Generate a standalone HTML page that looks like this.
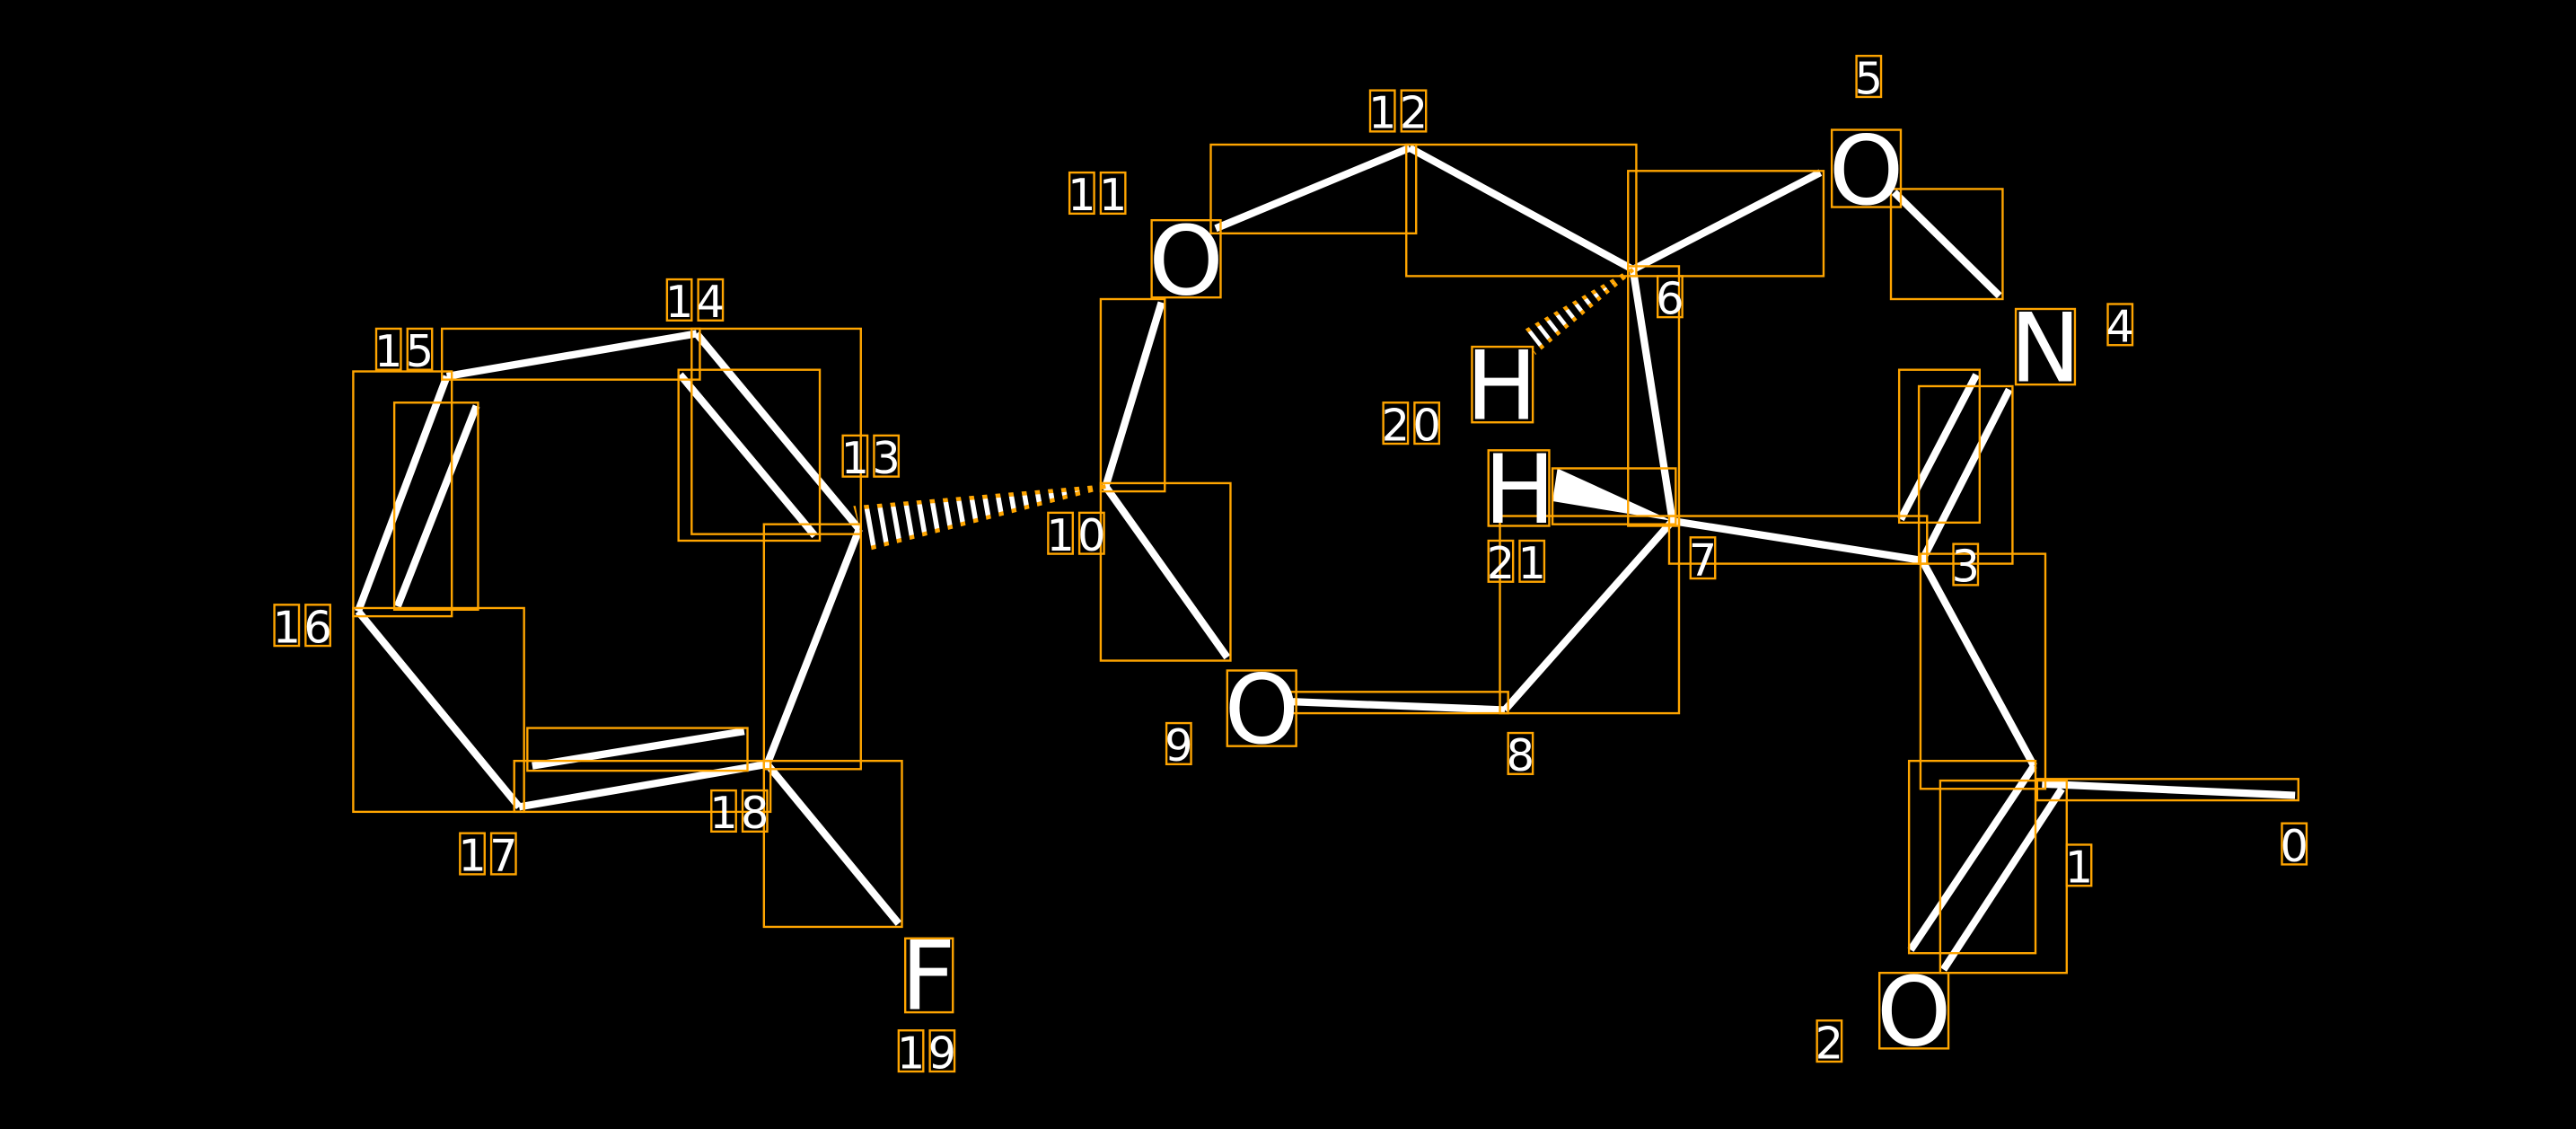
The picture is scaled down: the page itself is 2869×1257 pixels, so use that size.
<!DOCTYPE html>
<html><head><meta charset="utf-8"><style>
html,body{margin:0;padding:0;background:#000;}
svg{display:block;}
text{font-family:"DejaVu Sans","Liberation Sans",sans-serif;fill:#fff;}
</style></head><body>
<svg width="2869" height="1257" viewBox="0 0 1568 687" preserveAspectRatio="none" xmlns="http://www.w3.org/2000/svg">
<rect width="1568" height="687" fill="#000"/>
<defs>
<mask id="m1" maskUnits="userSpaceOnUse" x="0" y="0" width="1568" height="687"><line x1="673" y1="296" x2="519" y2="323" stroke="#fff" stroke-width="40" stroke-dasharray="3 5"/></mask>
<mask id="m2" maskUnits="userSpaceOnUse" x="0" y="0" width="1568" height="687"><line x1="994" y1="164" x2="930" y2="214" stroke="#fff" stroke-width="30" stroke-dasharray="2.5 4"/></mask>
</defs>
<g stroke="#fff" stroke-width="4.5" stroke-linecap="butt" fill="none">
<line x1="1397" y1="484" x2="1243" y2="477"/>
<line x1="1238" y1="466" x2="1163" y2="578"/>
<line x1="1255" y1="480" x2="1183" y2="590"/>
<line x1="1238" y1="466" x2="1170" y2="341"/>
<line x1="1170" y1="341" x2="1223" y2="237"/>
<line x1="1157" y1="316" x2="1203" y2="228"/>
<line x1="1217" y1="180" x2="1153" y2="117"/>
<line x1="1108" y1="105" x2="994" y2="164"/>
<line x1="994" y1="164" x2="858" y2="90"/>
<line x1="858" y1="90" x2="740" y2="139"/>
<line x1="707" y1="184" x2="673" y2="296"/>
<line x1="673" y1="296" x2="747" y2="400"/>
<line x1="787" y1="427" x2="916" y2="432"/>
<line x1="916" y1="432" x2="1018" y2="317"/>
<line x1="1018" y1="317" x2="994" y2="164"/>
<line x1="1018" y1="317" x2="1170" y2="341"/>
<line x1="523" y1="322" x2="424" y2="203"/>
<line x1="414" y1="228" x2="496" y2="326"/>
<line x1="424" y1="203" x2="272" y2="229"/>
<line x1="272" y1="229" x2="218" y2="372"/>
<line x1="290" y1="247" x2="242" y2="369"/>
<line x1="218" y1="372" x2="316" y2="491"/>
<line x1="316" y1="491" x2="467" y2="465"/>
<line x1="324" y1="466" x2="453" y2="445"/>
<line x1="467" y1="465" x2="523" y2="322"/>
<line x1="467" y1="465" x2="547" y2="562"/>
</g>
<polygon points="1018,317 948,285 945,305" fill="#fff"/>
<polygon points="673,296 528,334 521,309" fill="#fff" stroke="orange" stroke-width="2.5" mask="url(#m1)"/>
<polygon points="994,164 935,214 928,202" fill="#fff" stroke="orange" stroke-width="2.5" mask="url(#m2)"/>
<g stroke="orange" stroke-width="1.3" fill="none">
<rect x="1240" y="474" width="159" height="13"/>
<rect x="1162" y="463" width="77" height="117"/>
<rect x="1181" y="475" width="77" height="117"/>
<rect x="1169" y="337" width="76" height="143"/>
<rect x="1156" y="225" width="49" height="93"/>
<rect x="1168" y="235" width="57" height="108"/>
<rect x="1151" y="115" width="68" height="67"/>
<rect x="991" y="104" width="119" height="64"/>
<rect x="856" y="88" width="140" height="80"/>
<rect x="737" y="88" width="125" height="54"/>
<rect x="670" y="182" width="39" height="117"/>
<rect x="670" y="294" width="79" height="108"/>
<rect x="785" y="421" width="133" height="13"/>
<rect x="913" y="314" width="109" height="120"/>
<rect x="991" y="162" width="31" height="158"/>
<rect x="1016" y="314" width="157" height="29"/>
<rect x="945" y="285" width="75" height="34"/>
<rect x="269" y="200" width="157" height="31"/>
<rect x="421" y="200" width="103" height="125"/>
<rect x="413" y="225" width="86" height="104"/>
<rect x="465" y="319" width="59" height="149"/>
<rect x="465" y="463" width="84" height="101"/>
<rect x="215" y="370" width="104" height="124"/>
<rect x="313" y="463" width="156" height="31"/>
<rect x="321" y="443" width="134" height="26"/>
<rect x="215" y="226" width="60" height="149"/>
<rect x="240" y="245" width="51" height="126"/>
<rect x="701" y="134" width="42" height="47"/>
<rect x="1115" y="79" width="42" height="47"/>
<rect x="1227" y="188" width="36" height="46"/>
<rect x="747" y="408" width="42" height="46"/>
<rect x="1144" y="592" width="42" height="46"/>
<rect x="551" y="571" width="29" height="45"/>
<rect x="896" y="211" width="37" height="46"/>
<rect x="906" y="274" width="37" height="46"/>
</g>
<g font-size="58" text-anchor="middle">
<text x="722" y="179">O</text>
<text x="1136" y="124">O</text>
<text x="1245" y="232">N</text>
<text x="768" y="452">O</text>
<text x="1165" y="636">O</text>
<text x="565" y="614">F</text>
<text x="914" y="255">H</text>
<text x="925" y="318">H</text>
</g>
<g stroke="orange" stroke-width="1.3" fill="none">
<rect x="1389" y="501" width="15" height="25"/>
<rect x="1258" y="514" width="15" height="25"/>
<rect x="1106" y="621" width="15" height="25"/>
<rect x="1189" y="331" width="15" height="25"/>
<rect x="1283" y="185" width="15" height="25"/>
<rect x="1130" y="34" width="15" height="25"/>
<rect x="1009" y="168" width="15" height="25"/>
<rect x="1029" y="327" width="15" height="25"/>
<rect x="918" y="446" width="15" height="25"/>
<rect x="710" y="440" width="15" height="25"/>
<rect x="638" y="312" width="15" height="25"/><rect x="657" y="312" width="15" height="25"/>
<rect x="651" y="105" width="15" height="25"/><rect x="670" y="105" width="15" height="25"/>
<rect x="834" y="55" width="15" height="25"/><rect x="853" y="55" width="15" height="25"/>
<rect x="513" y="265" width="15" height="25"/><rect x="532" y="265" width="15" height="25"/>
<rect x="406" y="170" width="15" height="25"/><rect x="425" y="170" width="15" height="25"/>
<rect x="229" y="200" width="15" height="25"/><rect x="248" y="200" width="15" height="25"/>
<rect x="167" y="368" width="15" height="25"/><rect x="186" y="368" width="15" height="25"/>
<rect x="280" y="507" width="15" height="25"/><rect x="299" y="507" width="15" height="25"/>
<rect x="433" y="481" width="15" height="25"/><rect x="452" y="481" width="15" height="25"/>
<rect x="547" y="627" width="15" height="25"/><rect x="566" y="627" width="15" height="25"/>
<rect x="842" y="245" width="15" height="25"/><rect x="861" y="245" width="15" height="25"/>
<rect x="906" y="329" width="15" height="25"/><rect x="925" y="329" width="15" height="25"/>
</g>
<g font-size="27" text-anchor="middle">
<text x="1396.5" y="524">0</text>
<text x="1265.5" y="537">1</text>
<text x="1113.5" y="644">2</text>
<text x="1196.5" y="354">3</text>
<text x="1290.5" y="208">4</text>
<text x="1137.5" y="57">5</text>
<text x="1016.5" y="191">6</text>
<text x="1036.5" y="350">7</text>
<text x="925.5" y="469">8</text>
<text x="717.5" y="463">9</text>
<text x="645.5" y="335">1</text><text x="664.5" y="335">0</text>
<text x="658.5" y="128">1</text><text x="677.5" y="128">1</text>
<text x="841.5" y="78">1</text><text x="860.5" y="78">2</text>
<text x="520.5" y="288">1</text><text x="539.5" y="288">3</text>
<text x="413.5" y="193">1</text><text x="432.5" y="193">4</text>
<text x="236.5" y="223">1</text><text x="255.5" y="223">5</text>
<text x="174.5" y="391">1</text><text x="193.5" y="391">6</text>
<text x="287.5" y="530">1</text><text x="306.5" y="530">7</text>
<text x="440.5" y="504">1</text><text x="459.5" y="504">8</text>
<text x="554.5" y="650">1</text><text x="573.5" y="650">9</text>
<text x="849.5" y="268">2</text><text x="868.5" y="268">0</text>
<text x="913.5" y="352">2</text><text x="932.5" y="352">1</text>
</g>
</svg>
</body></html>
